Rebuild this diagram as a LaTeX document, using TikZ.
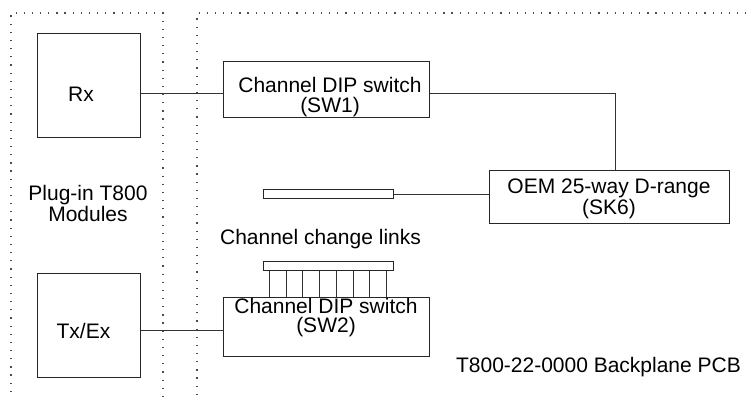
\documentclass[tikz,border=0pt]{standalone}
\usepackage{fontspec}
\setmainfont{Liberation Sans}
\usetikzlibrary{positioning,calc}

\begin{document}
\begin{tikzpicture}[
    x=0.5pt, y=-0.5pt,
    font=\fontsize{10.5}{9.75}\selectfont,
    box/.style={rectangle, draw=black!85, line width=0.5pt, inner sep=0pt},
    module/.style={box, minimum width=51.5pt, minimum height=52pt},
    dipsw/.style={box, minimum width=103pt, minimum height=28pt},
    strip/.style={box, minimum width=65pt, minimum height=4.5pt},
    wire/.style={draw=black!80, line width=0.5pt},
    zone/.style={draw=black!70, line width=0.6pt, dash pattern=on 0.6pt off 3.48pt}
]
\useasboundingbox (0,0) rectangle (746,399);

% Zones
\draw[zone] (11,392) -- (11,13) -- (163,13) -- (163,399);
\draw[zone] (197,395) -- (197,13) -- (746,13);

% Nodes
\node[module, label={[xshift=-3.75pt, yshift=-4pt]center:Rx}] (rx) at (88.5,86) {};
\node[module, label={[xshift=-2.5pt, yshift=-2.5pt]center:Tx/Ex}] (txex) at (88.5,326) {};
\node[align=center] (modules) at (88,203.5) {Plug-in T800\\Modules};
\node[dipsw, label={[align=center, xshift=2pt, yshift=-3.5pt]center:{Channel DIP switch\\(SW1)}}] (sw1) at (326,90) {};
\node[dipsw, minimum height=29.5pt, label={[align=center, yshift=5pt]center:{Channel DIP switch\\(SW2)}}] (sw2) at (326,327.5) {};
\node[box, minimum width=120pt, minimum height=26.5pt, label={[align=center, yshift=-0.75pt]center:{OEM 25-way D-range\\(SK6)}}] (sk6) at (609,197.5) {};
\node[strip] (dconn) at (328,194.5) {};
\node[strip] (links) at (328,266.5) {};
\node (linkslbl) at (320.5,239) {Channel change links};
\node (pcb) at (598.5,367) {T800-22-0000 Backplane PCB};

% Edges
\draw[wire] ($(rx.east)+(0,8)$) -- ($(sw1.west)+(0,4)$);
\draw[wire] ($(txex.east)+(0,5)$) -- ($(sw2.west)+(0,3.5)$);
\draw[wire] ($(sw1.east)+(0,4)$) -| ($(sk6.north)+(6,0)$);
\draw[wire] (dconn.east) -- (dconn.east -| sk6.west);
\foreach \i in {0,...,7} {
    \path ($(links.south west)+(7+16.71*\i,0)$) coordinate (lk\i);
    \draw[wire] (lk\i) -- (lk\i |- sw2.north);
}
\end{tikzpicture}
\end{document}
